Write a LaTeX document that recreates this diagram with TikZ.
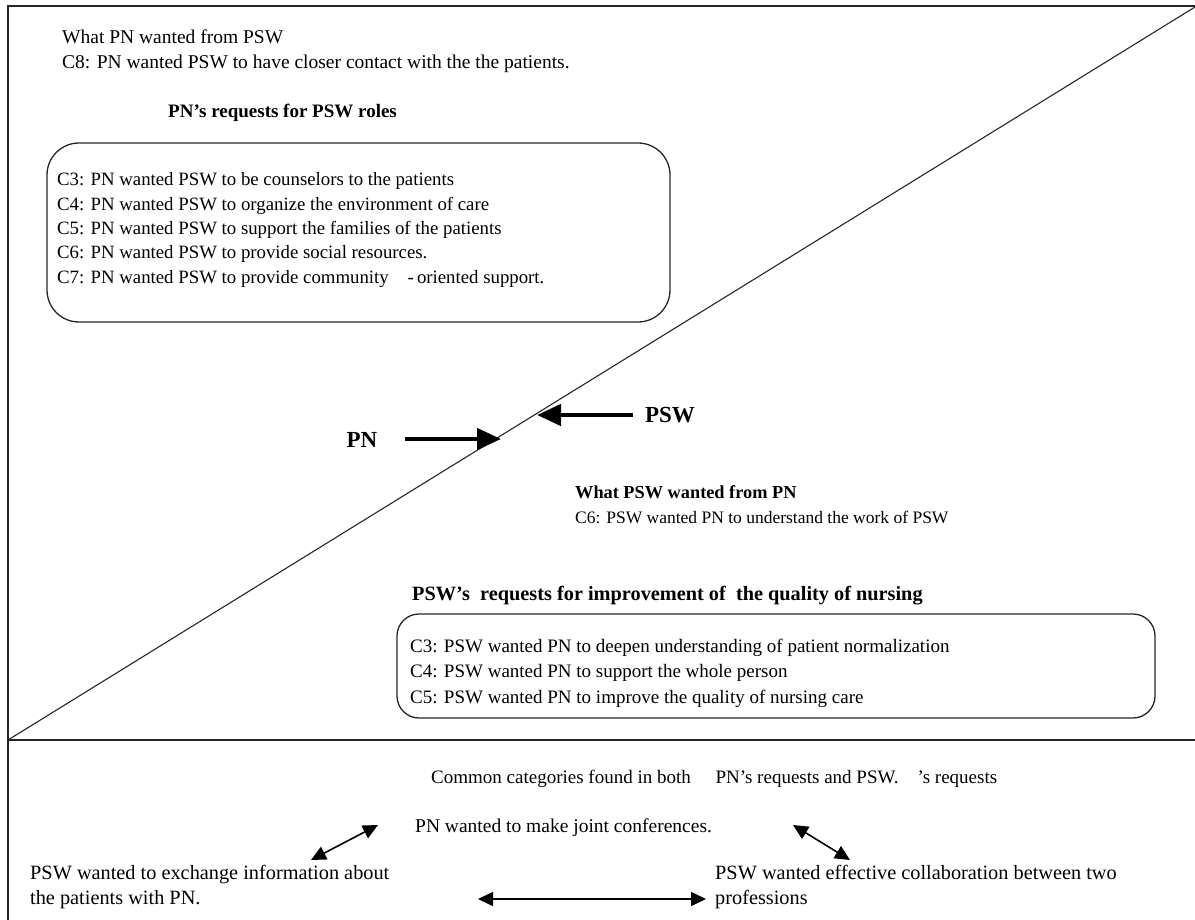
\documentclass[tikz,border=0pt]{standalone}
\usepackage{fontspec}
\setmainfont{Liberation Serif}
\usetikzlibrary{arrows.meta}
\begin{document}
\begin{tikzpicture}[x=1pt,y=-1pt,
  line/.style={line width=1.3pt, black!85},
  txt/.style={anchor=base west, inner sep=0pt, font=\fontsize{#1}{20}\selectfont},
  txt/.default=19.5,
  btxt/.style={anchor=base west, inner sep=0pt, font=\fontsize{#1}{20}\selectfont\bfseries},
  btxt/.default=19.5,
  big/.style={anchor=center, inner sep=0pt, font=\fontsize{23}{26}\selectfont\bfseries},
  roundbox/.style={draw, line width=1.3pt, black!85, rounded corners=#1, inner sep=0pt},
  fatarrow/.style={line width=4.5pt, -{Triangle[length=24pt,width=21pt]}},
  dblarrow/.style={line width=1.6pt, {Triangle[length=15pt,width=14pt]}-{Triangle[length=15pt,width=14pt]}}
]
\useasboundingbox (0,0) rectangle (1195,920);
% frame
\coordinate (tl) at (8,6);
\coordinate (tr) at (1195,6);
\coordinate (bl) at (8,920);
\coordinate (ml) at (8,740);
\coordinate (mr) at (1195,740);
\coordinate (dr) at (1195,7);
\draw[line] (bl) -- (tl) -- (tr);
\draw[line] (ml) -- (mr);
\draw[line, line width=1.1pt] (ml) -- (dr);

% upper left
\node[txt=19.5] (t1) at (62,44) {What PN wanted from PSW};
\node[txt=19.5] (t2) at (62,69) {C8: PN wanted PSW to have closer contact with the the patients.};
\node[btxt=19] (t3) at (168,118) {PN’s requests for PSW roles};
\node[roundbox=32pt, minimum width=623pt, minimum height=179pt] (box1) at (358.5,232.5) {};
\node[txt=18.8] (b1a) at (57,186) {C3: PN wanted PSW to be counselors to the patients};
\node[txt=18.8] (b1b) at (57,210.3) {C4: PN wanted PSW to organize the environment of care};
\node[txt=18.8] (b1c) at (57,234.6) {C5: PN wanted PSW to support the families of the patients};
\node[txt=18.8] (b1d) at (57,258.9) {C6: PN wanted PSW to provide social resources.};
\node[txt=18.8] (b1e) at (57,283.2) {C7: PN wanted PSW to provide community\hspace{1em}-\,oriented support.};

% center
\node[big] (pn) at (362,440) {PN};
\node[big] (psw) at (670,415) {PSW};
\coordinate (pnS) at (405,439);
\coordinate (pnE) at (501,439);
\coordinate (pswS) at (633,415);
\coordinate (pswE) at (537,415);
\draw[fatarrow] (pnS) -- (pnE);
\draw[fatarrow] (pswS) -- (pswE);

% lower right
\node[btxt=18.3] (t4) at (575,498) {What PSW wanted from PN};
\node[txt=17.5] (t5) at (575,523) {C6: PSW wanted PN to understand the work of PSW};
\node[btxt=20.3] (t6) at (412,600) {PSW’s\ \ requests for improvement of\ \ the quality of nursing};
\node[roundbox=22pt, minimum width=758pt, minimum height=104pt] (box2) at (776,666) {};
\node[txt=19] (b2a) at (410,652) {C3: PSW wanted PN to deepen understanding of patient normalization};
\node[txt=19] (b2b) at (410,677.5) {C4: PSW wanted PN to support the whole person};
\node[txt=19] (b2c) at (410,703) {C5: PSW wanted PN to improve the quality of nursing care};

% bottom
\node[txt=19] (c1) at (431,783) {Common categories found in both\hspace{1.3em}PN’s requests and PSW.\hspace{1em}’s requests};
\node[txt=19.5] (c2) at (415,832) {PN wanted to make joint conferences.};
\node[txt=20.3] (c3) at (30,879) {PSW wanted to exchange information about};
\node[txt=20.3] (c4) at (30,904) {the patients with PN.};
\node[txt=20.3] (c5) at (715,879) {PSW wanted effective collaboration between two};
\node[txt=20.3] (c6) at (715,904) {professions};
\coordinate (a1s) at (311,860);
\coordinate (a1e) at (378,825);
\coordinate (a2s) at (793,825);
\coordinate (a2e) at (850,860);
\coordinate (a3s) at (478,899);
\coordinate (a3e) at (706,899);
\draw[dblarrow] (a1s) -- (a1e);
\draw[dblarrow] (a2s) -- (a2e);
\draw[dblarrow] (a3s) -- (a3e);
\end{tikzpicture}
\end{document}
